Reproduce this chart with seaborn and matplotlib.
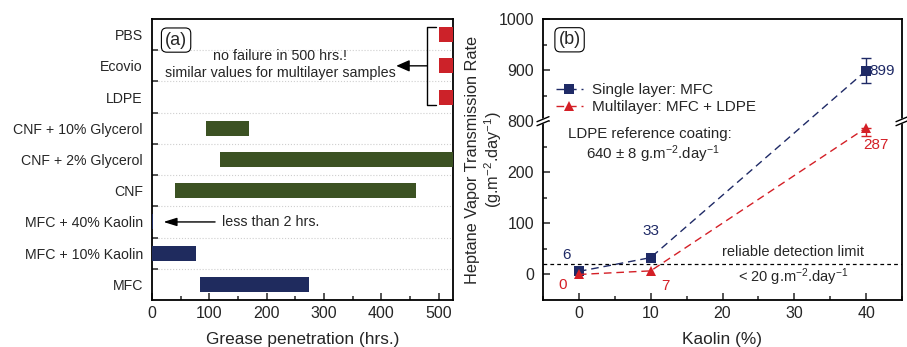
import numpy as np
import pandas as pd
import matplotlib
matplotlib.use('Agg')
import matplotlib.pyplot as plt
from matplotlib.ticker import MultipleLocator, FixedLocator
import seaborn as sns

# (a) グリース浸透: 上から下の順
samples = ['PBS', 'Ecovio', 'LDPE', 'CNF + 10% Glycerol', 'CNF + 2% Glycerol',
           'CNF', 'MFC + 40% Kaolin', 'MFC + 10% Kaolin', 'MFC']
groups = ['film', 'film', 'film', 'cnf', 'cnf', 'cnf', 'mfc', 'mfc', 'mfc']
t_start = [500, 500, 500, 95, 118, 40, 0, 0, 83]   # hrs.
t_end = [530, 530, 530, 169, 530, 460, 2, 77, 273]  # hrs.

# (b) ヘプタン透過率
kaolin = [0, 10, 40]
single_rate = [6, 33, 899]
single_err = [0, 0, 24]
multi_rate = [0, 7, 287]
multi_err_low = [0, 0, 16]
multi_err_high = [0, 0, 0]
detection_limit = 20

blue = '#1f2a66'
red = '#d41f26'
bar_colors = {'film': '#cc2229', 'cnf': '#3c5223', 'mfc': '#1f2b5e'}

sns.set_style('ticks')
plt.rcParams['font.family'] = ['Liberation Sans', 'DejaVu Sans']
plt.rcParams['mathtext.fontset'] = 'custom'
plt.rcParams['mathtext.rm'] = 'Liberation Sans'
plt.rcParams['mathtext.it'] = 'Liberation Sans:italic'
plt.rcParams['axes.linewidth'] = 1.3
plt.rcParams['axes.edgecolor'] = 'black'

fig = plt.figure(figsize=(9.07, 3.47), dpi=100)
axa = fig.add_axes([152 / 907, 47 / 347, 301 / 907, 281 / 347])
axb = fig.add_axes([543 / 907, 47 / 347, 359 / 907, 281 / 347])

# ---------------- (a) ----------------
df_a = pd.DataFrame({'sample': samples, 'group': groups, 'start': t_start, 'end': t_end})
df_a['dur'] = df_a['end'] - df_a['start']

sns.barplot(data=df_a, x='dur', y='sample', order=samples, orient='y', errorbar=None,
            width=0.48, left=df_a['start'].to_numpy(), color='gray', ax=axa, zorder=3)
for patch, g in zip(axa.patches, df_a['group']):
    patch.set_facecolor(bar_colors[g])
    patch.set_edgecolor('none')

axa.set_xlim(0, 525)
axa.set_ylim(len(samples) - 0.5, -0.5)
axa.set_ylabel('')
axa.set_xlabel('Grease penetration (hrs.)', fontsize=12.4, labelpad=8)
axa.xaxis.set_major_locator(MultipleLocator(100))
axa.xaxis.set_minor_locator(MultipleLocator(50))
axa.yaxis.set_minor_locator(FixedLocator(np.arange(0.5, len(samples) - 1, 1)))
axa.tick_params(axis='x', which='major', direction='in', length=5, width=1.1, labelsize=11.5, pad=4)
axa.tick_params(axis='x', which='minor', direction='in', length=3, width=1.1)
axa.tick_params(axis='y', which='major', length=0, labelsize=10.2, pad=6.5)
axa.tick_params(axis='y', which='minor', direction='in', length=4, width=1.1)
axa.grid(which='minor', axis='y', color='#cfcfcf', ls=':', lw=0.8, zorder=0)

axa.text(0.08, 0.925, '(a)', transform=axa.transAxes, ha='center', va='center', fontsize=13,
         bbox=dict(boxstyle='round,pad=0.2,rounding_size=0.3', fc='white', ec='black', lw=0.8))
axa.text(224, 0.68, 'no failure in 500 hrs.!', ha='center', va='center', fontsize=10.3)
axa.text(224, 1.23, 'similar values for multilayer samples', ha='center', va='center', fontsize=10.3)
# かっこと矢印
axa.plot([496, 480, 480, 496], [-0.24, -0.24, 2.24, 2.24], color='k', lw=1, zorder=4)
axa.annotate('', xy=(426, 1), xytext=(480, 1),
             arrowprops=dict(arrowstyle='-|>,head_length=0.8,head_width=0.35', color='k', lw=1,
                             shrinkA=0, shrinkB=0))
axa.annotate('', xy=(20, 6), xytext=(110, 6),
             arrowprops=dict(arrowstyle='-|>,head_length=0.8,head_width=0.25', color='k', lw=1,
                             shrinkA=0, shrinkB=0))
axa.text(122, 6, 'less than 2 hrs.', ha='left', va='center', fontsize=10.3)

# ---------------- (b) ----------------
df_b = pd.DataFrame({
    'Kaolin': kaolin * 2,
    'HVTR': single_rate + multi_rate,
    'layer': ['Single layer: MFC'] * 3 + ['Multilayer: MFC + LDPE'] * 3,
})

sns.lineplot(data=df_b, x='Kaolin', y='HVTR', hue='layer', style='layer',
             markers=['s', '^'], dashes=[(5.5, 3.5), (5.5, 3.5)], palette=[blue, red],
             markersize=7, markeredgewidth=0, lw=1, ax=axb, zorder=4)

# 誤差棒
m = np.array(single_err) > 0
axb.errorbar(np.array(kaolin)[m], np.array(single_rate)[m], yerr=np.array(single_err)[m],
             fmt='none', ecolor=blue, elinewidth=1, capsize=3.5, capthick=1, zorder=3)
m = np.array(multi_err_low) > 0
axb.errorbar(np.array(kaolin)[m], np.array(multi_rate)[m],
             yerr=[np.array(multi_err_low)[m], np.array(multi_err_high)[m]],
             fmt='none', ecolor=red, elinewidth=1, capsize=3.5, capthick=1, zorder=3)


# 軸の切れ目 (300-800 を詰める)
def fwd(v):
    v = np.asarray(v, dtype=float)
    return np.where(v >= 800, v - 500, np.minimum(v, 300))


def inv(y):
    y = np.asarray(y, dtype=float)
    return np.where(y > 300, y + 500, y)


axb.set_yscale('function', functions=(fwd, inv))
axb.set_ylim(-50, 1000)
axb.set_xlim(-5, 45)
axb.yaxis.set_major_locator(FixedLocator([0, 100, 200, 800, 900, 1000]))
axb.yaxis.set_minor_locator(FixedLocator([50, 150, 250, 850, 950]))
axb.yaxis.set_major_formatter(matplotlib.ticker.FormatStrFormatter('%d'))
axb.yaxis.set_minor_formatter(matplotlib.ticker.NullFormatter())
axb.xaxis.set_major_locator(MultipleLocator(10))
axb.xaxis.set_minor_locator(MultipleLocator(5))
axb.tick_params(which='major', direction='in', length=5, width=1.1, labelsize=11.5)
axb.tick_params(which='minor', direction='in', length=3, width=1.1)
axb.tick_params(axis='y', pad=6.5)
axb.tick_params(axis='x', pad=4)

axb.axhline(detection_limit, color='k', lw=0.9, ls=(0, (3, 2.5)), zorder=2)

axb.set_xlabel('Kaolin (%)', fontsize=12.4, labelpad=8)
axb.set_ylabel('Heptane Vapor Transmission Rate\n(g.m$^{-2}$.day$^{-1}$)', fontsize=11.7,
               linespacing=1.1)
axb.yaxis.set_label_coords(-0.11, 0.5)

# 切れ目マーク
def break_mark(ax, xf, yf):
    px = 1 / ax.bbox.width
    py = 1 / ax.bbox.height
    dx, sl, gap = 6 * px, 2.5 * py, 2 * py
    xs = [xf - dx, xf + dx, xf + dx, xf - dx]
    ys = [yf - gap - sl, yf - gap + sl, yf + gap + sl, yf + gap - sl]
    ax.fill(xs, ys, color='white', transform=ax.transAxes, clip_on=False, zorder=6)
    ax.plot(xs[:2], ys[:2], color='k', lw=1, transform=ax.transAxes, clip_on=False, zorder=7)
    ax.plot(xs[2:], ys[2:], color='k', lw=1, transform=ax.transAxes, clip_on=False, zorder=7)


yb = (300 + 50) / 550
break_mark(axb, 0, yb)
break_mark(axb, 1, yb)

# 値のラベル
axb.text(-1.7, 38, str(single_rate[0]), color=blue, ha='center', va='center', fontsize=11)
axb.text(10, 86, str(single_rate[1]), color=blue, ha='center', va='center', fontsize=11)
axb.text(40.4, single_rate[2], str(single_rate[2]), color=blue, ha='left', va='center', fontsize=11)
axb.text(-2.3, -20, str(multi_rate[0]), color=red, ha='center', va='center', fontsize=11)
axb.text(12, -22, str(multi_rate[1]), color=red, ha='center', va='center', fontsize=11)
axb.text(41.4, 254, str(multi_rate[2]), color=red, ha='center', va='center', fontsize=11)

axb.text(29.8, 44, 'reliable detection limit', ha='center', va='center', fontsize=10.5)
axb.text(29.8, -6, '< %d g.m$^{-2}$.day$^{-1}$' % detection_limit, ha='center', va='center', fontsize=10.5)
axb.text(0.07, 0.591, 'LDPE reference coating:', transform=axb.transAxes, ha='left', va='center',
         fontsize=10.8)
axb.text(0.121, 0.52, '640 $\\pm$ 8 g.m$^{-2}$.day$^{-1}$', transform=axb.transAxes, ha='left',
         va='center', fontsize=10.8)
axb.text(0.074, 0.926, '(b)', transform=axb.transAxes, ha='center', va='center', fontsize=13,
         bbox=dict(boxstyle='round,pad=0.2,rounding_size=0.3', fc='white', ec='black', lw=0.8))

sns.move_legend(axb, 'upper left', bbox_to_anchor=(0.035, 0.772), frameon=False, title=None,
                fontsize=11, handlelength=1.8, handletextpad=0.6, labelspacing=0.2,
                borderaxespad=0, borderpad=0)

fig.savefig('out.png', dpi=100)
